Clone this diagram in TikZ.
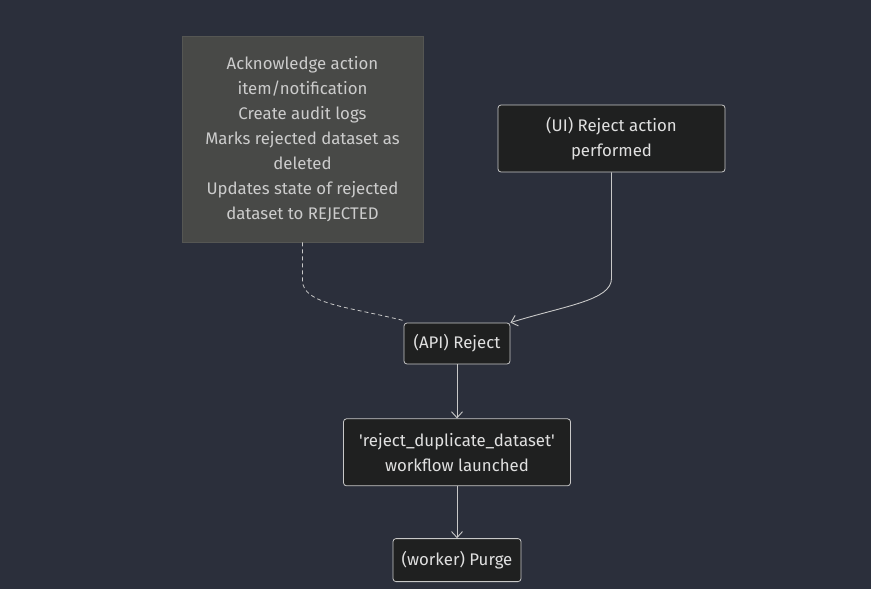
\documentclass[tikz,border=0pt]{standalone}
\usepackage{fontspec}
\setmainfont{Fira Sans}
\usetikzlibrary{arrows.meta,positioning}
\definecolor{bgdark}{HTML}{2B2F3B}
\definecolor{nodefill}{HTML}{1F2020}
\definecolor{notefill}{HTML}{484947}
\definecolor{noteline}{HTML}{555653}
\definecolor{linegray}{HTML}{C8C8C8}
\definecolor{txtgray}{HTML}{CCCCCC}

\begin{document}
\begin{tikzpicture}[x=1pt, y=-1pt, font=\fontsize{16.8}{25}\selectfont,
  step box/.style={draw=linegray, fill=nodefill, rounded corners=3pt, align=center, text=white!88!black, inner sep=0pt, line width=0.8pt},
  note box/.style={draw=noteline, fill=notefill, align=center, text=txtgray, inner sep=0pt, line width=0.8pt},
  flow/.style={draw=linegray, line width=0.9pt, -{Straight Barb[length=6pt, width=11pt]}}]
  \fill[bgdark] (0,0) rectangle (871,589);
  \useasboundingbox (0,0) rectangle (871,589);
  \node[note box, minimum width=241pt, minimum height=206pt] (note) at (302.5,139) {Acknowledge action\\
     item/notification\\ Create audit logs\\ Marks rejected dataset as\\ deleted\\
     Updates state of rejected\\ dataset to REJECTED};
  \node[step box, minimum width=227pt, minimum height=67pt] (ui) at (611.5,138.5) {(UI) Reject action\\ performed};
  \node[step box, minimum width=106pt, minimum height=41pt] (api) at (457,343.5) {(API) Reject};
  \node[step box, below=54pt of api, minimum width=227pt, minimum height=67pt] (wf) {\textquotesingle reject\_duplicate\_dataset\textquotesingle\\ workflow launched};
  \node[step box, below=52pt of wf, minimum width=128pt, minimum height=43pt] (purge) {(worker) Purge};
  \draw[flow] (ui.south) -- ++(0,106) .. controls +(0,22) and +(55,-17) .. (api.north east);
  \draw[draw=linegray, line width=0.8pt, dash pattern=on 4pt off 3pt] (note.south) -- ++(0,38) .. controls +(0,24) and +(-55,-14) .. ([yshift=2pt]api.north west);
  \draw[flow] (api) -- (wf);
  \draw[flow] (wf) -- (purge);
\end{tikzpicture}
\end{document}
